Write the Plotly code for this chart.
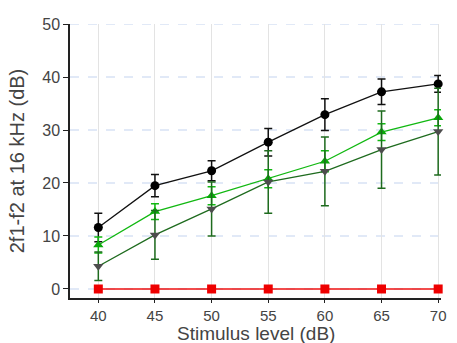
import plotly.graph_objects as go

levels = [40, 45, 50, 55, 60, 65, 70]
black_mean = [11.6, 19.5, 22.3, 27.7, 32.9, 37.2, 38.7]
black_err = [2.7, 2.1, 1.9, 2.6, 3.0, 2.4, 1.6]
green_mean = [8.3, 14.6, 17.6, 20.8, 24.1, 29.6, 32.3]
green_err = [1.5, 1.5, 1.7, 1.7, 2.0, 1.6, 1.5]
dark_mean = [4.3, 10.2, 15.1, 20.2, 22.2, 26.3, 29.7]
dark_err = [2.7, 4.6, 5.1, 5.9, 6.5, 7.3, 8.2]
red_mean = [0, 0, 0, 0, 0, 0, 0]

x_ticks = [40, 45, 50, 55, 60, 65, 70]
y_ticks = [0, 10, 20, 30, 40, 50]

fig = go.Figure()

def add(y, err, line_color, marker_color, symbol, size=9):
    fig.add_trace(go.Scatter(
        x=levels, y=y, mode="lines+markers",
        line=dict(color=line_color, width=1.3),
        marker=dict(color=marker_color, symbol=symbol, size=size),
        error_y=dict(type="data", array=err, visible=err is not None,
                     color=line_color, thickness=1.5, width=4),
        showlegend=False, cliponaxis=False,
    ))

add(red_mean, None, "#ee1111", "#ee0000", "square", 9)
add(black_mean, black_err, "#111111", "#000000", "circle", 9)
add(green_mean, green_err, "#11b811", "#0aa80a", "triangle-up", 9)
add(dark_mean, dark_err, "#1e6b1e", "#4d4d4d", "triangle-down", 9)

# dashed horizontal grid lines
for yv in y_ticks:
    fig.add_shape(type="line", xref="paper", yref="y", x0=0, x1=1, y0=yv, y1=yv,
                  line=dict(color="#c3d3f0", width=1.2, dash="dash"), layer="below")

# x-axis title as annotation for exact placement
fig.add_annotation(text="Stimulus level (dB)", xref="paper", yref="paper",
                   x=0.5, y=-0.128, xanchor="center", yanchor="middle",
                   showarrow=False, font=dict(size=19, color="#444444"))

fig.update_layout(
    width=457, height=343,
    margin=dict(l=70, r=16, t=24, b=45),
    paper_bgcolor="white", plot_bgcolor="white",
    font=dict(family="Liberation Sans, Arial, sans-serif", color="#444444"),
    xaxis=dict(
        range=[37.5, 70.25], tickvals=x_ticks, ticktext=[str(v) for v in x_ticks],
        showgrid=True, gridcolor="#e3e3e3", gridwidth=1.2,
        showline=True, linecolor="#222222", linewidth=1.5,
        ticks="outside", ticklen=3, tickcolor="#222222", tickwidth=1.2,
        tickfont=dict(size=15, color="#444444"),
        zeroline=False, automargin=False,
    ),
    yaxis=dict(
        range=[-1.7, 50], tickvals=y_ticks, ticktext=[str(v) for v in y_ticks],
        showgrid=False,
        showline=True, linecolor="#222222", linewidth=1.5,
        ticks="outside", ticklen=5, tickcolor="#222222", tickwidth=1.2,
        tickfont=dict(size=16, color="#444444"),
        title=dict(text="2f1-f2 at 16 kHz (dB)", font=dict(size=20, color="#444444"), standoff=12),
        zeroline=False, automargin=False,
    ),
)

fig.write_html("out.html", config={"displayModeBar": False},
               post_script="document.body.style.margin='0';document.body.style.overflow='hidden';")
